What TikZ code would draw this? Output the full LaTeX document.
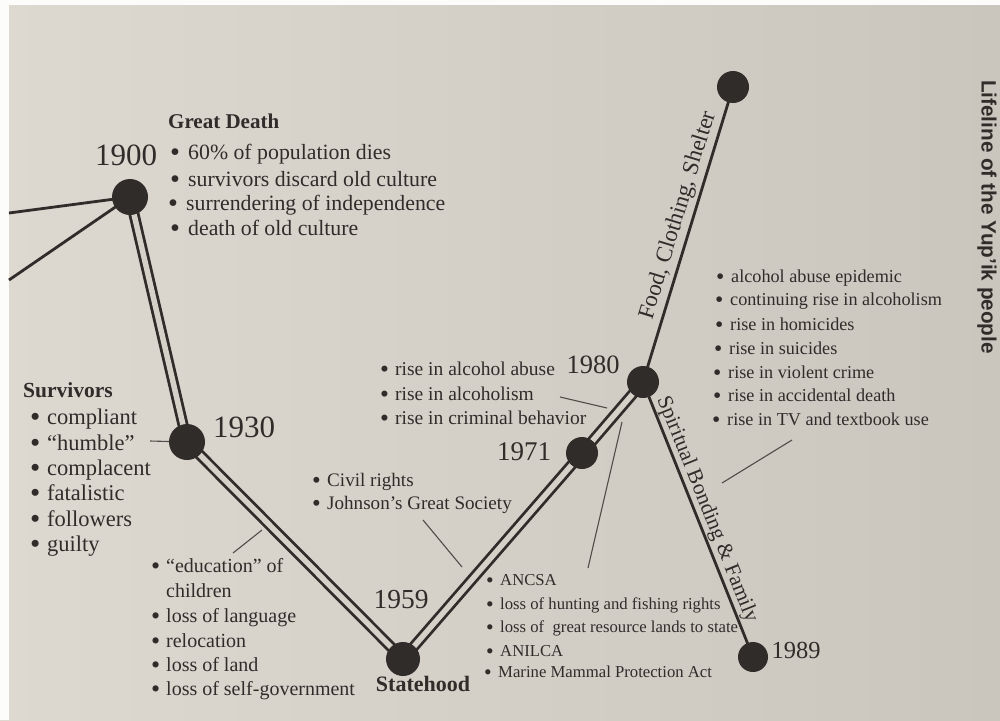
\documentclass[tikz,border=0pt]{standalone}
\usepackage{fontspec}
\setmainfont{Liberation Serif}
\newfontfamily\titlefont{Liberation Sans}
\usetikzlibrary{backgrounds}
\definecolor{paperL}{RGB}{221,217,209}
\definecolor{paperR}{RGB}{202,197,189}
\definecolor{paperM}{RGB}{213,209,201}
\definecolor{ink}{RGB}{48,44,42}
\definecolor{lead}{RGB}{80,76,72}
\pgfdeclarelayer{paperlayer}
\pgfsetlayers{paperlayer,background,main}
\newcommand\bl[1]{\makebox[#1][l]{\raisebox{-0.11em}{\scalebox{1.3}{\textbullet}}}}
\newcommand\fs[1]{\fontsize{#1}{#1}\selectfont}
\begin{document}
\begin{tikzpicture}[x=1pt,y=-1pt,
  dot/.style={circle, fill=ink, inner sep=0pt, minimum size=#1},
  dbl/.style={draw=ink, line width=2.8pt, double=paperM, double distance=5.5pt, line join=miter},
  sgl/.style={draw=ink, line width=2.8pt},
  leader/.style={draw=lead, line width=1.1pt},
  li/.style={anchor=mid west, inner sep=0pt, text=ink},
  yr/.style={inner sep=0pt, text=ink, font=\fs{#1}},
  lbl/.style={inner sep=0pt, text=ink, sloped}
]
\useasboundingbox (0,0) rectangle (1000,720);
\begin{pgfonlayer}{paperlayer}
  \fill[left color=paperL, right color=paperR] (0,0) rectangle (1000,720);
  \fill[white!92!paperL] (0,0) rectangle (9,720);
  \fill[white!92!paperL] (0,0) rectangle (1000,5);
\end{pgfonlayer}

% dots
\node[dot=36pt] (n1900) at (130,197) {};
\node[dot=36pt] (n1930) at (187,442) {};
\node[dot=34pt] (n1959) at (403,659) {};
\node[dot=32pt] (n1971) at (582,453) {};
\node[dot=32pt] (n1980) at (643,382) {};
\node[dot=32pt] (ntop) at (733,87) {};
\node[dot=30pt] (n1989) at (753,657) {};
\coordinate (l1) at (9,213);
\coordinate (l2) at (9,280);

\begin{pgfonlayer}{background}
  \draw[dbl] (n1900.center) -- (n1930.center) -- (n1959.center) -- (n1971.center) -- (n1980.center);
  \draw[sgl] (l1) -- (n1900.center);
  \draw[sgl] (l2) -- (n1900.center);
  \draw[sgl] (n1980.center) -- (ntop.center);
  \draw[sgl] (n1980.center) -- (n1989.center);
\end{pgfonlayer}

% labels along lines
\path (n1980.center) -- (ntop.center) node[lbl, pos=0.55, above=4pt, font=\fs{23}] (food) {Food, Clothing, Shelter};
\path (n1980.center) -- (n1989.center) node[lbl, pos=0.48, above=2pt, font=\fs{21.5}] (spirit) {Spiritual Bonding \& Family};

% years
\node[yr=31] (y1900) at (126,155) {1900};
\node[yr=31] (y1930) at (244,427) {1930};
\node[yr=27.5] (y1959) at (401,600) {1959};
\node[yr=27] (y1971) at (524,452) {1971};
\node[yr=26.5] (y1980) at (593,365) {1980};
\node[yr=24.5] (y1989) at (796,650) {1989};
\node[inner sep=0pt, text=ink, font=\bfseries\fs{22}] (state) at (423,684) {Statehood};

% title
\node[rotate=-90, inner sep=0pt, text=ink, font=\titlefont\bfseries\fs{20.7}] (title) at (987,217) {Lifeline of the Yup’ik people};

% Great Death
\node[li, font=\bfseries\fs{21}] (gd) at (168,126) {Great Death};
\node[li, font=\fs{21.8}] (gd1) at (170,157) {\bl{18pt}60\% of population dies};
\node[li, font=\fs{21.8}] (gd2) at (170,184) {\bl{18pt}survivors discard old culture};
\node[li, font=\fs{21.8}] (gd3) at (168,208) {\bl{18pt}surrendering of independence};
\node[li, font=\fs{21.8}] (gd4) at (170,233) {\bl{18pt}death of old culture};

% Survivors
\node[li, font=\bfseries\fs{21.5}] (sv) at (23,395) {Survivors};
\node[li, font=\fs{22.5}] (sv1) at (30,422) {\bl{17pt}compliant};
\node[li, font=\fs{22.5}] (sv2) at (30,448) {\bl{17pt}“humble”};
\node[li, font=\fs{22.5}] (sv3) at (30,473) {\bl{17pt}complacent};
\node[li, font=\fs{22.5}] (sv4) at (30,498) {\bl{17pt}fatalistic};
\node[li, font=\fs{22.5}] (sv5) at (30,524) {\bl{17pt}followers};
\node[li, font=\fs{22.5}] (sv6) at (30,549) {\bl{17pt}guilty};

% education list
\node[li, font=\fs{20}] (ed1) at (151,570) {\bl{15pt}“education” of};
\node[li, font=\fs{20}] (ed1b) at (166,595) {children};
\node[li, font=\fs{20}] (ed2) at (151,620) {\bl{15pt}loss of language};
\node[li, font=\fs{20}] (ed3) at (151,645) {\bl{15pt}relocation};
\node[li, font=\fs{20}] (ed4) at (151,669) {\bl{15pt}loss of land};
\node[li, font=\fs{20}] (ed5) at (151,693) {\bl{15pt}loss of self-government};

% civil rights
\node[li, font=\fs{19.1}] (cr1) at (312,484) {\bl{15pt}Civil rights};
\node[li, font=\fs{19.1}] (cr2) at (312,507) {\bl{15pt}Johnson’s Great Society};

% rise list
\node[li, font=\fs{19.5}] (ra1) at (380,373) {\bl{15pt}rise in alcohol abuse};
\node[li, font=\fs{19.5}] (ra2) at (380,398) {\bl{15pt}rise in alcoholism};
\node[li, font=\fs{19.5}] (ra3) at (380,422) {\bl{15pt}rise in criminal behavior};

% ANCSA list
\node[li, font=\fs{16.7}] (an1) at (486,583) {\bl{14pt}ANCSA};
\node[li, font=\fs{16.7}] (an2) at (486,607) {\bl{14pt}loss of hunting and fishing rights};
\node[li, font=\fs{16.7}] (an3) at (486,630) {\bl{14pt}loss of \ great resource lands to state};
\node[li, font=\fs{16.7}] (an4) at (486,654) {\bl{14pt}ANILCA};
\node[li, font=\fs{16.7}] (an5) at (484,675) {\bl{14pt}Marine Mammal Protection Act};

% right list
\node[li, font=\fs{18.2}] (rr1) at (716,280) {\bl{15pt}alcohol abuse epidemic};
\node[li, font=\fs{18.2}] (rr2) at (715,303) {\bl{15pt}continuing rise in alcoholism};
\node[li, font=\fs{18.2}] (rr3) at (715,328) {\bl{15pt}rise in homicides};
\node[li, font=\fs{18.2}] (rr4) at (714,352) {\bl{15pt}rise in suicides};
\node[li, font=\fs{18.2}] (rr5) at (713,376) {\bl{15pt}rise in violent crime};
\node[li, font=\fs{18.2}] (rr6) at (713,399) {\bl{15pt}rise in accidental death};
\node[li, font=\fs{18.2}] (rr7) at (712,423) {\bl{15pt}rise in TV and textbook use};

% leaders
\coordinate (hA) at (150,441);
\draw[leader] (hA) -- (n1930);
\coordinate (eA) at (233,553); \coordinate (eB) at (262,530);
\draw[leader] (eA) -- (eB);
\coordinate (jA) at (423,520); \coordinate (jB) at (462,567);
\draw[leader] (jA) -- (jB);
\coordinate (aA) at (560,397); \coordinate (aB) at (607,408);
\draw[leader] (aA) -- (aB);
\coordinate (nA) at (588,568); \coordinate (nB) at (622,422);
\draw[leader] (nA) -- (nB);
\coordinate (tA) at (792,440); \coordinate (tB) at (722,483);
\draw[leader] (tA) -- (tB);
\end{tikzpicture}
\end{document}
